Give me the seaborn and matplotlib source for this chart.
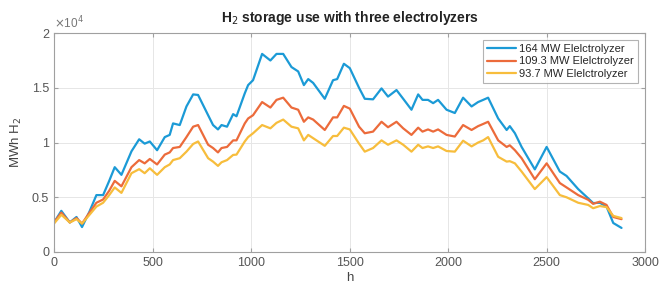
import matplotlib
matplotlib.use('Agg')
import matplotlib.pyplot as plt
import matplotlib.ticker as mticker
import pandas as pd
import seaborn as sns

# Hours (x axis)
hours = [0, 37, 80, 114, 142, 180, 215, 249, 280, 308, 342, 393, 432, 460, 486, 523, 562, 587, 604, 638,
         672, 706, 731, 782, 807, 832, 850, 878, 909, 926, 968, 985, 1010, 1056, 1098, 1129, 1163, 1205,
         1239, 1268, 1290, 1315, 1374, 1416, 1437, 1471, 1501, 1548, 1577, 1619, 1662, 1695, 1738, 1772,
         1814, 1848, 1870, 1898, 1924, 1949, 1992, 2034, 2076, 2119, 2152, 2178, 2203, 2254, 2297, 2313,
         2339, 2373, 2440, 2500, 2567, 2601, 2660, 2711, 2736, 2770, 2804, 2838, 2880]

# Stored H2 (MWh) for each electrolyzer size
storage_164 = [2700, 3760, 2700, 3200, 2280, 3700, 5200, 5200, 6500, 7750, 7050, 9200, 10300, 9900, 10100,
               9300, 10500, 10700, 11750, 11600, 13300, 14400, 14350, 12500, 11600, 11200, 11600, 11450,
               12600, 12400, 14500, 15250, 15700, 18100, 17500, 18100, 18100, 16900, 16500, 15250, 15800,
               15450, 14000, 15700, 15800, 17200, 16800, 15000, 14000, 13950, 14950, 14200, 14800, 14000,
               13000, 14400, 13900, 13900, 13600, 13900, 13000, 12700, 14100, 13300, 13700, 13900, 14100,
               12200, 11150, 11500, 10850, 9600, 7550, 9600, 7350, 6950, 5750, 4900, 4470, 4500, 4150,
               2650, 2200]
storage_109 = [2700, 3600, 2700, 3100, 2600, 3600, 4500, 4800, 5600, 6500, 6000, 7750, 8400, 8100, 8500,
               8000, 8900, 9100, 9500, 9600, 10500, 11450, 11600, 9800, 9500, 9100, 9500, 9600, 10200,
               10200, 11750, 12200, 12500, 13700, 13200, 13900, 14100, 13200, 13000, 11900, 12300, 12100,
               11150, 12300, 12300, 13350, 13100, 11450, 10850, 11000, 11900, 11400, 11900, 11300, 10700,
               11360, 11000, 11200, 11000, 11200, 10700, 10550, 11600, 11150, 11500, 11700, 11900, 10200,
               9600, 9750, 9300, 8570, 6650, 8100, 6300, 5900, 5200, 4770, 4400, 4600, 4300, 3200, 3000]
storage_94 = [2600, 3400, 2700, 3000, 2600, 3400, 4150, 4500, 5200, 5900, 5400, 7200, 7570, 7200, 7650,
              7050, 7750, 8000, 8400, 8570, 9170, 9870, 10100, 8570, 8260, 7870, 8200, 8400, 8870, 8900,
              10100, 10500, 10850, 11600, 11300, 11800, 12100, 11450, 11300, 10200, 10700, 10400, 9700,
              10600, 10600, 11360, 11200, 9900, 9170, 9500, 10200, 9800, 10200, 9800, 9170, 9800, 9500,
              9650, 9500, 9650, 9230, 9170, 10170, 9650, 10000, 10200, 10500, 8700, 8260, 8300, 8100,
              7350, 5750, 6840, 5200, 5000, 4500, 4300, 4000, 4200, 4100, 3300, 3100]

labels = ['164 MW Elelctrolyzer', '109.3 MW Elelctrolyzer', '93.7 MW Elelctrolyzer']
colors = ['#1b9ad6', '#ec6b3b', '#f7bd3c']

df = pd.DataFrame({'h': hours * 3,
                   'MWh': storage_164 + storage_109 + storage_94,
                   'series': [labels[0]] * len(hours) + [labels[1]] * len(hours) + [labels[2]] * len(hours)})

sns.set_style('white')
plt.rcParams['font.family'] = ['Liberation Sans', 'DejaVu Sans']

fig = plt.figure(figsize=(6.59, 2.88), dpi=100)
ax = fig.add_axes([0.082, 0.125, 0.897, 0.76])

sns.lineplot(data=df, x='h', y='MWh', hue='series', palette=colors, linewidth=1.6, ax=ax, sort=False)

ax.set_xlim(0, 3000)
ax.set_ylim(0, 20000)
ax.set_xticks([0, 500, 1000, 1500, 2000, 2500, 3000])
ax.set_yticks([0, 5000, 10000, 15000, 20000])
ax.yaxis.set_major_formatter(mticker.FuncFormatter(lambda v, p: '%g' % (v / 1e4)))
ax.grid(True, color='#e6e6e6', linewidth=0.7)
for s in ax.spines.values():
    s.set_color('#a0a0a0')
    s.set_linewidth(0.8)
ax.tick_params(colors='#555555', labelsize=9, direction='in', length=3, top=True, right=True,
               bottom=True, left=True)
ax.tick_params(axis='both', which='both', color='#a0a0a0')

ax.set_xlabel('h', fontsize=9.5, color='#444444', labelpad=2)
ax.set_ylabel('MWh H$_2$', fontsize=9.5, color='#444444', labelpad=6)
ax.set_title('H$_2$ storage use with three electrolyzers', fontsize=10, fontweight='bold', color='#222222', pad=8)
ax.text(0.0, 1.01, r'$\times$10$^4$', transform=ax.transAxes, fontsize=8.5, color='#777777', ha='left', va='bottom')

leg = ax.legend(loc='upper right', fontsize=8, frameon=True, fancybox=False, handlelength=2.6,
                borderaxespad=0.6, labelspacing=0.2, borderpad=0.4, handletextpad=0.3)
leg.get_frame().set_edgecolor('#a0a0a0')
leg.get_frame().set_linewidth(0.8)
leg.set_title(None)

fig.savefig('out.png', dpi=100)
